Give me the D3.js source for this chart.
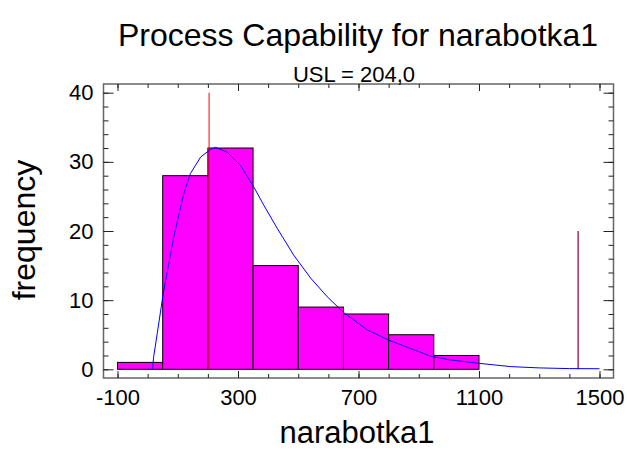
<!DOCTYPE html>
<html>
<head>
<meta charset="utf-8">
<script src="https://cdn.jsdelivr.net/npm/d3@7"></script>
<style>
  body { margin: 0; background: #fff; }
  svg { display: block; font-family: "Liberation Sans", Arial, sans-serif; }
</style>
</head>
<body>
<div id="chart"></div>
<script>
// histogram bins (narabotka1) and counts
const binEdges = [-100, 50, 200, 350, 500, 650, 800, 950, 1100];
const counts = [1, 28, 32, 15, 9, 8, 5, 2];

// fitted density curve
const curveX = [16, 20, 32, 52, 87, 120, 142, 176, 209, 225, 264, 308, 352, 386, 430, 485, 541, 596, 651, 729, 801, 873, 939, 1005, 1099, 1205, 1300, 1400, 1500];
const curveY = [0, 1.8, 5.2, 11.0, 19.2, 25.4, 28.3, 30.7, 31.8, 32.1, 31.4, 29.5, 26.4, 23.7, 20.4, 16.5, 13.2, 10.5, 8.2, 5.7, 4.2, 3.0, 1.9, 1.35, 0.87, 0.39, 0.2, 0.1, 0.08];

// spec limit and the other marker line
const usl = 204;
const uslTop = 40;
const markX = 1429;
const markTop = 20;

const xMajor = [-100, 300, 700, 1100, 1500];
const xMinor = d3.range(-100, 1501, 100);
const yMajor = [0, 10, 20, 30, 40];
const yMinor = d3.range(0, 41, 2);

const width = 627, height = 453;
const frame = {left: 103.5, right: 613.5, top: 84, bottom: 378};
const padX = 14, padY = 8.7;

let svg = d3.select("#chart")
  .append("svg")
    .attr("width", width)
    .attr("height", height);

const x = d3.scaleLinear()
  .domain([-100, 1500])
  .range([frame.left + padX, frame.right - padX]);

const y = d3.scaleLinear()
  .domain([0, 40])
  .range([frame.bottom - padY, frame.top + padY]);

// bars
svg.append("g")
  .selectAll("rect")
  .data(counts)
  .join("rect")
    .attr("x", (d, i) => x(binEdges[i]))
    .attr("y", d => y(d))
    .attr("width", (d, i) => x(binEdges[i + 1]) - x(binEdges[i]))
    .attr("height", d => y(0) - y(d))
    .style("fill", "#ff00ff")
    .style("stroke", "#000")
    .style("stroke-width", 1);

// USL line
svg.append("line")
  .attr("x1", x(usl)).attr("x2", x(usl))
  .attr("y1", y(0)).attr("y2", y(uslTop))
  .style("stroke", "#ff0000")
  .style("stroke-width", 1);

svg.append("line")
  .attr("x1", x(markX)).attr("x2", x(markX))
  .attr("y1", y(0)).attr("y2", y(markTop))
  .style("stroke", "#800040")
  .style("stroke-width", 1.2);

// fitted curve
const line = d3.line()
  .x((d, i) => x(curveX[i]))
  .y(d => y(d));

svg.append("path")
  .datum(curveY)
  .attr("d", line)
  .style("fill", "none")
  .style("stroke", "#0000ff")
  .style("stroke-width", 1);

// frame
svg.append("rect")
  .attr("x", frame.left)
  .attr("y", frame.top)
  .attr("width", frame.right - frame.left)
  .attr("height", frame.bottom - frame.top)
  .style("fill", "none")
  .style("stroke", "#666")
  .style("stroke-width", 1.5);

function styleAxis(g) {
  g.select(".domain").remove();
  g.selectAll("line").style("stroke", "#222");
  g.selectAll("text")
    .style("font-size", "22px")
    .style("fill", "#000")
    .style("font-family", "Liberation Sans, Arial, sans-serif");
}

// plain hyphen for negatives, like the original
const plain = d => String(d);

// x axis ticks, bottom and top
svg.append("g")
  .attr("transform", `translate(0, ${frame.bottom})`)
  .call(d3.axisBottom(x).tickValues(xMinor).tickSize(-4).tickFormat(""))
  .call(styleAxis);
svg.append("g")
  .attr("transform", `translate(0, ${frame.bottom})`)
  .call(d3.axisBottom(x).tickValues(xMajor).tickSize(-7).tickPadding(11).tickFormat(plain))
  .call(styleAxis);
svg.append("g")
  .attr("transform", `translate(0, ${frame.top})`)
  .call(d3.axisTop(x).tickValues(xMinor).tickSize(-4).tickFormat(""))
  .call(styleAxis);
svg.append("g")
  .attr("transform", `translate(0, ${frame.top})`)
  .call(d3.axisTop(x).tickValues(xMajor).tickSize(-7).tickFormat(""))
  .call(styleAxis);

// y axis ticks, left and right
svg.append("g")
  .attr("transform", `translate(${frame.left}, 0)`)
  .call(d3.axisLeft(y).tickValues(yMinor).tickSize(-5).tickFormat(""))
  .call(styleAxis);
svg.append("g")
  .attr("transform", `translate(${frame.left}, 0)`)
  .call(d3.axisLeft(y).tickValues(yMajor).tickSize(-10).tickPadding(10).tickFormat(plain))
  .call(styleAxis);
svg.append("g")
  .attr("transform", `translate(${frame.right}, 0)`)
  .call(d3.axisRight(y).tickValues(yMinor).tickSize(-5).tickFormat(""))
  .call(styleAxis);
svg.append("g")
  .attr("transform", `translate(${frame.right}, 0)`)
  .call(d3.axisRight(y).tickValues(yMajor).tickSize(-10).tickFormat(""))
  .call(styleAxis);

// titles
svg.append("text")
  .attr("x", 358)
  .attr("y", 46)
  .attr("text-anchor", "middle")
  .style("font-size", "32px")
  .text("Process Capability for narabotka1");

svg.append("text")
  .attr("x", 354)
  .attr("y", 82)
  .attr("text-anchor", "middle")
  .style("font-size", "22px")
  .text("USL = 204,0");

svg.append("text")
  .attr("x", 357)
  .attr("y", 443)
  .attr("text-anchor", "middle")
  .style("font-size", "31px")
  .text("narabotka1");

svg.append("text")
  .attr("transform", "translate(35, 230) rotate(-90)")
  .attr("text-anchor", "middle")
  .style("font-size", "32px")
  .text("frequency");
</script>
</body>
</html>
